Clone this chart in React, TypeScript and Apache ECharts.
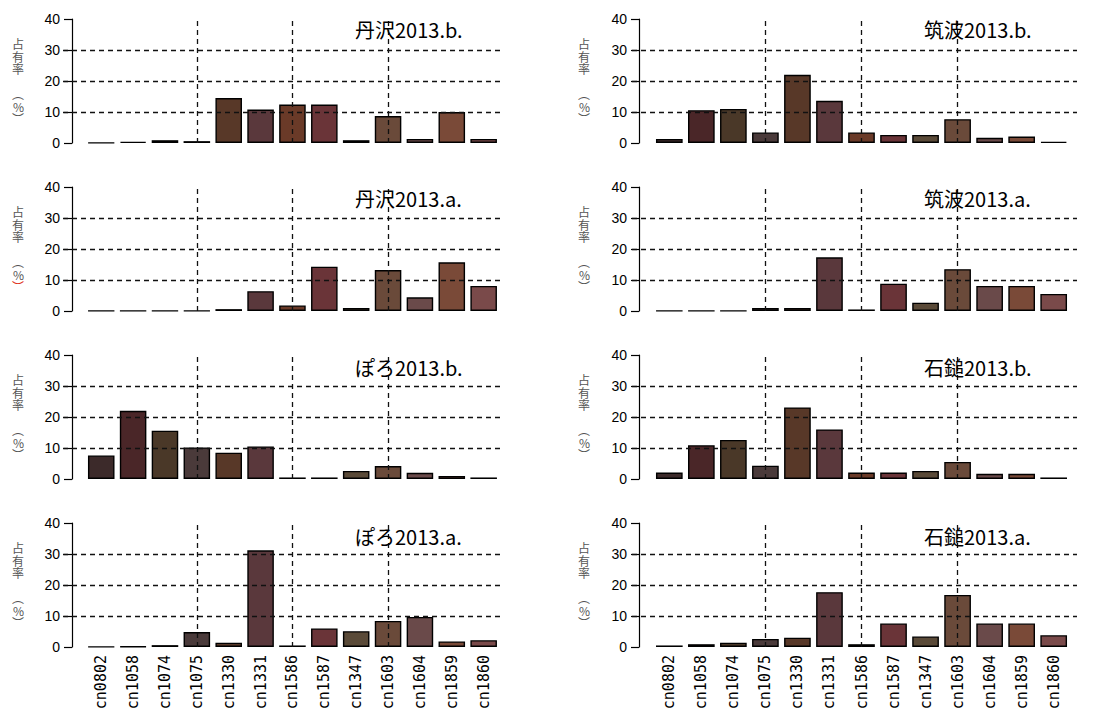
import React, { useEffect, useRef } from "react";
import * as echarts from "echarts";

const categories = [
  "cn0802", "cn1058", "cn1074", "cn1075", "cn1330", "cn1331", "cn1586",
  "cn1587", "cn1347", "cn1603", "cn1604", "cn1859", "cn1860",
];

const barColors = [
  "#3c2a2a", "#4a2628", "#4a3828", "#4a3a3a", "#583828", "#5a383c", "#6a3a28",
  "#6a3438", "#5a4a38", "#6a4a3a", "#6a4a4a", "#7a4a38", "#7a4a4a",
];

const panelTitles = [
  "丹沢2013.b.", "筑波2013.b.",
  "丹沢2013.a.", "筑波2013.a.",
  "ぽろ2013.b.", "石鎚2013.b.",
  "ぽろ2013.a.", "石鎚2013.a.",
];

const tanzawaB = [0.1, 0.4, 0.9, 0.6, 14.5, 10.8, 12.4, 12.4, 0.9, 8.7, 1.3, 10.0, 1.3];
const tsukubaB = [1.3, 10.6, 11.0, 3.4, 22.0, 13.6, 3.4, 2.6, 2.6, 7.7, 1.7, 2.1, 0.4];
const tanzawaA = [0.05, 0.05, 0.05, 0.1, 0.6, 6.4, 1.8, 14.3, 1.0, 13.2, 4.4, 15.7, 8.1];
const tsukubaA = [0.05, 0.05, 0.05, 1.0, 1.0, 17.3, 0.5, 8.8, 2.7, 13.5, 8.1, 8.1, 5.5];
const poroB = [7.6, 22.0, 15.6, 10.2, 8.5, 10.5, 0.5, 0.5, 2.6, 4.2, 2.0, 1.0, 0.5];
const ishizuchiB = [2.1, 10.9, 12.6, 4.3, 23.1, 16.0, 2.1, 2.1, 2.6, 5.5, 1.7, 1.7, 0.5];
const poroA = [0.1, 0.2, 0.6, 4.8, 1.4, 31.2, 0.5, 6.0, 5.1, 8.4, 9.7, 1.8, 2.2];
const ishizuchiA = [0.5, 0.9, 1.4, 2.6, 3.0, 17.7, 0.9, 7.6, 3.4, 16.8, 7.6, 7.6, 3.8];

const panelValues = [tanzawaB, tsukubaB, tanzawaA, tsukubaA, poroB, ishizuchiB, poroA, ishizuchiA];

const yMin = 0;
const yMax = 40;
const yInterval = 10;
const hGridValues = [10, 20, 30];
const vGridCategories = ["cn1075", "cn1586", "cn1603"];
const yAxisNameChars = ["占", "有", "率", "\u3000", "︵", "%", "︶"];

// layout (pixels)
const rowTop = [19, 187, 355, 523];
const rowHeight = 124;
const titleCenter = [29, 198, 367, 536];
const colGridLeft = [85.3, 653.3];
const colGridWidth = [414.3, 416.4];
const colAxisX = [72, 639];
const colHLine = [[63, 503], [632, 1077]];
const colTitleLeft = [355, 924];
const colNameRight = [24, 590];

const cjkFont = '"Noto Sans CJK JP", sans-serif';

function buildName(redLast: boolean) {
  return yAxisNameChars
    .map((c, k) => (redLast && k === yAxisNameChars.length - 1 ? `{r|${c}}` : `{c|${c}}`))
    .join("\n");
}

export default function App() {
  const ref = useRef<HTMLDivElement>(null);

  useEffect(() => {
    if (!ref.current) return;
    const chart = echarts.init(ref.current, undefined, { renderer: "svg" });

    const grids: any[] = [];
    const xAxes: any[] = [];
    const yAxes: any[] = [];
    const series: any[] = [];
    const titles: any[] = [];

    panelValues.forEach((vals, i) => {
      const row = Math.floor(i / 2);
      const col = i % 2;
      grids.push({
        left: colGridLeft[col],
        top: rowTop[row],
        width: colGridWidth[col],
        height: rowHeight,
        containLabel: false,
      });
      xAxes.push({
        type: "category",
        gridIndex: i,
        data: categories,
        axisLine: { show: false },
        axisTick: { show: false },
        splitLine: { show: false },
        axisLabel: {
          show: row === 3,
          rotate: 90,
          interval: 0,
          margin: 8,
          color: "#000",
          fontSize: 15,
          fontFamily: '"DejaVu Sans Mono", monospace',
        },
      });
      yAxes.push({
        type: "value",
        gridIndex: i,
        min: yMin,
        max: yMax,
        interval: yInterval,
        offset: colGridLeft[col] - colAxisX[col],
        axisLine: { show: true, lineStyle: { color: "#000", width: 1.2 } },
        axisTick: { show: true, length: 8, lineStyle: { color: "#000", width: 1.2 } },
        splitLine: { show: false },
        axisLabel: {
          margin: 12,
          color: "#000",
          fontSize: 14,
          fontFamily: '"Liberation Sans Narrow", "Liberation Sans", sans-serif',
        },
        name: buildName(i === 2),
        nameLocation: "middle",
        nameRotate: 0,
        nameGap: colAxisX[col] - colNameRight[col],
        nameTextStyle: {
          color: "#555",
          fontSize: 12,
          lineHeight: 12.5,
          fontFamily: cjkFont,
          rich: {
            c: { color: "#555", fontSize: 12, lineHeight: 12.5, fontFamily: cjkFont },
            r: { color: "#e03020", fontSize: 12, lineHeight: 12.5, fontFamily: cjkFont },
          },
        },
      });
      titles.push({
        text: panelTitles[i],
        left: colTitleLeft[col],
        top: titleCenter[row] - 11,
        padding: 0,
        textStyle: {
          fontSize: 20,
          fontWeight: "normal",
          color: "#000",
          lineHeight: 22,
          fontFamily: cjkFont,
        },
      });
      const [hx0, hx1] = colHLine[col];
      series.push({
        type: "bar",
        xAxisIndex: i,
        yAxisIndex: i,
        barCategoryGap: "16.7%",
        data: vals.map((v, j) => ({ value: v, itemStyle: { color: barColors[j] } })),
        itemStyle: { borderColor: "#000", borderWidth: 1.4 },
        markLine: {
          silent: true,
          symbol: "none",
          label: { show: false },
          lineStyle: { type: [5, 4], color: "#111", width: 1.3 },
          data: [
            ...vGridCategories.map((c) => ({ xAxis: c })),
            ...hGridValues.map((v) => [
              { x: hx0, yAxis: v },
              { x: hx1, yAxis: v },
            ]),
          ],
        },
      });
    });

    chart.setOption({
      animation: false,
      backgroundColor: "#fff",
      title: titles,
      grid: grids,
      xAxis: xAxes,
      yAxis: yAxes,
      series,
    });

    return () => chart.dispose();
  }, []);

  return (
    <div
      ref={ref}
      style={{ position: "fixed", left: 0, top: 0, width: 1112, height: 713, background: "#fff" }}
    />
  );
}
